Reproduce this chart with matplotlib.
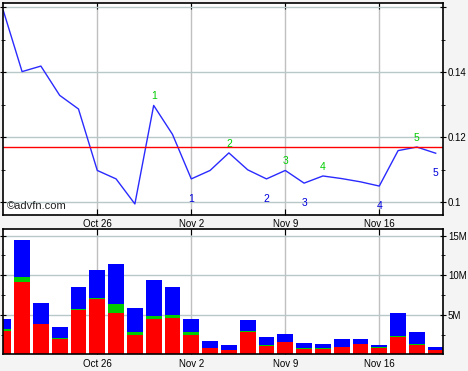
import numpy as np
import matplotlib.pyplot as plt
from matplotlib.ticker import FixedLocator

plt.rcParams['font.family'] = ['Liberation Sans', 'DejaVu Sans']

# trading days, Oct 19 - Nov 19
dates = ["Oct 19", "Oct 20", "Oct 21", "Oct 22", "Oct 23",
         "Oct 26", "Oct 27", "Oct 28", "Oct 29", "Oct 30",
         "Nov 2", "Nov 3", "Nov 4", "Nov 5", "Nov 6",
         "Nov 9", "Nov 10", "Nov 11", "Nov 12", "Nov 13",
         "Nov 16", "Nov 17", "Nov 18", "Nov 19"]
mondays = ["Oct 26", "Nov 2", "Nov 9", "Nov 16"]

close = [0.159, 0.1402, 0.1419, 0.1329, 0.1287, 0.1098, 0.1072, 0.0995,
         0.1298, 0.1209, 0.1072, 0.1098, 0.1152, 0.1100, 0.1072, 0.1098,
         0.1059, 0.1081, 0.1073, 0.1063, 0.1050, 0.1159, 0.1170, 0.1151]
ref_price = 0.117

high_idx = [8, 12, 15, 17, 22]
low_idx = [10, 14, 16, 20, 23]

# volume in millions, three stacked parts
vol_red = [3.0, 9.16, 3.8, 1.98, 5.61, 7.05, 5.27, 2.49, 4.51, 4.6, 2.49, 0.8,
           0.55, 2.87, 1.1, 1.52, 0.72, 0.72, 0.93, 1.31, 0.8, 2.24, 1.22, 0.51]
vol_green = [0.25, 0.63, 0.08, 0.09, 0.13, 0.12, 1.10, 0.34, 0.38, 0.38, 0.34, 0,
             0, 0.12, 0.12, 0.08, 0.12, 0.12, 0, 0, 0.13, 0.12, 0.13, 0]
vol_blue = [1.22, 4.68, 2.62, 1.39, 2.78, 3.51, 5.06, 3.03, 4.52, 3.54, 1.64, 0.89,
            0.63, 1.36, 0.97, 0.97, 0.59, 0.47, 1.01, 0.63, 0.25, 2.87, 1.48, 0.42]

x = np.arange(len(dates))
tick_pos = [dates.index(d) for d in mondays]

fig = plt.figure(figsize=(4.68, 3.71), dpi=100, facecolor='#f4f4f4')
ax1 = fig.add_axes([0.0058, 0.4205, 0.9408, 0.5714])
ax2 = fig.add_axes([0.0058, 0.0445, 0.9408, 0.3374])


def style_axes(ax):
    ax.set_facecolor('white')
    ax.set_xlim(-0.03, 23.39)
    ax.set_xticks(tick_pos)
    ax.grid(axis='x', color='#c0c0c0', lw=1)
    ax.grid(axis='y', which='major', color='#b8c8c8', lw=1)
    ax.set_axisbelow(True)
    for s in ax.spines.values():
        s.set_linewidth(1.2)
    ax.tick_params(axis='x', direction='in', length=4, top=True, bottom=True,
                   labelsize=7, pad=3.2)
    ax.tick_params(axis='y', which='both', direction='inout', left=True, right=True,
                   labelleft=False, labelright=True, labelsize=7, pad=1.5)
    ax.tick_params(axis='y', which='major', length=4)
    ax.tick_params(axis='y', which='minor', length=3)


# price panel
style_axes(ax1)
ax1.plot(x, close, color='#2a2aff', lw=1)
ax1.axhline(ref_price, color='red', lw=1)
ax1.set_ylim(0.0961, 0.1613)
ax1.set_yticks([0.1, 0.12, 0.14, 0.16])
ax1.set_yticklabels(['0.1', '0.12', '0.14', ''])
ax1.yaxis.set_minor_locator(FixedLocator([0.11, 0.13, 0.15]))
ax1.set_xticklabels(mondays)

for n, i in enumerate(high_idx):
    ax1.annotate(str(n + 1), (x[i], close[i]), xytext=(0, 6.5), textcoords='offset points',
                 ha='center', va='center', color='#00cc00', fontsize=7.5)
for n, i in enumerate(low_idx):
    ax1.annotate(str(n + 1), (x[i], close[i]), xytext=(0, -14.4), textcoords='offset points',
                 ha='center', va='center', color='#0000dd', fontsize=7.5)

ax1.text(0.0105, 0.02, '©advfn.com', transform=ax1.transAxes, fontsize=8,
         va='bottom', ha='left', color='#222222')

# volume panel
style_axes(ax2)
red = np.array(vol_red)
green = np.array(vol_green)
blue = np.array(vol_blue)
ax2.bar(x, red, width=0.84, color='#ff0000', lw=0)
ax2.bar(x, green, width=0.84, bottom=red, color='#00cc00', lw=0)
ax2.bar(x, blue, width=0.84, bottom=red + green, color='#0000ff', lw=0)
ax2.set_ylim(0, 15.79)
ax2.set_yticks([5, 10, 15])
ax2.set_yticklabels(['5M', '10M', '15M'])
ax2.yaxis.set_minor_locator(FixedLocator([2.5, 7.5, 12.5]))
ax2.set_xticklabels(mondays)

fig.savefig('out.png', dpi=100, facecolor=fig.get_facecolor())
